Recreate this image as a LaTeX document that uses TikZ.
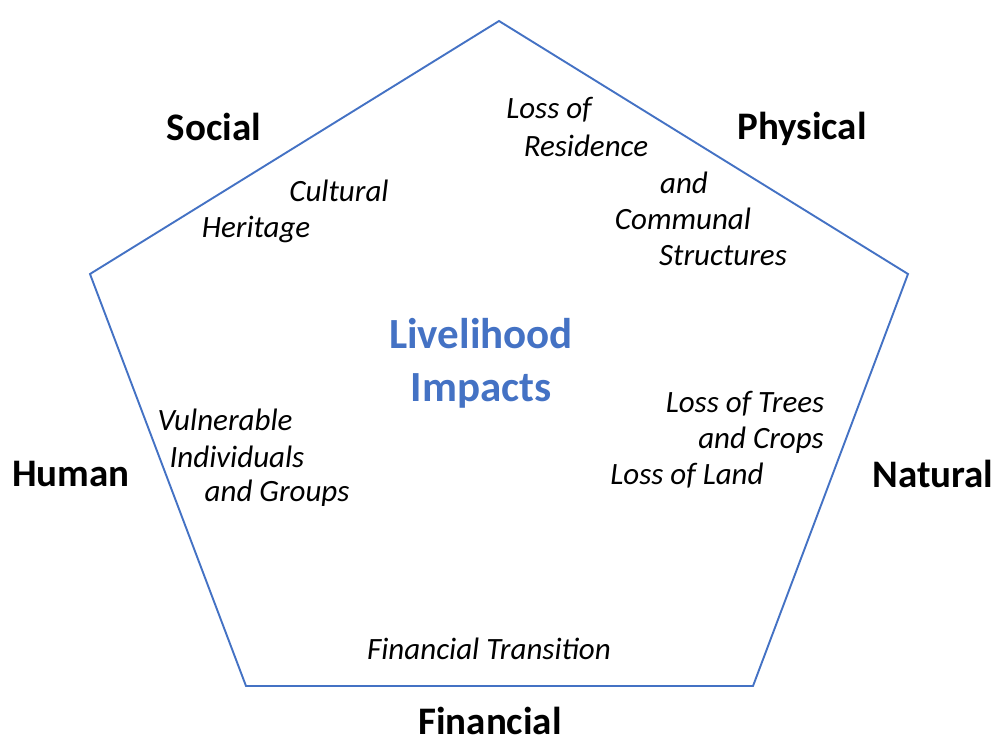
\documentclass[tikz,border=0pt]{standalone}
\usepackage{fontspec}
\setmainfont{Carlito}
\definecolor{pentblue}{RGB}{68,114,196}
\begin{document}
\begin{tikzpicture}[x=1pt,y=-1pt,
  capital/.style={font=\fontsize{39}{44}\selectfont\bfseries, inner sep=0pt},
  itl/.style={font=\fontsize{31}{36}\selectfont\itshape, inner sep=0pt},
  ttl/.style={font=\fontsize{43}{53}\selectfont\bfseries, text=pentblue, inner sep=0pt, align=center}]
\useasboundingbox (0,0) rectangle (995,738);
\coordinate (T) at (499,21);
\coordinate (R) at (908,274);
\coordinate (BR) at (753,686);
\coordinate (BL) at (246,686);
\coordinate (L) at (90,274);
\draw[pentblue, line width=1.9pt, line join=miter] (T) -- (R) -- (BR) -- (BL) -- (L) -- cycle;
\node[capital] (social) at (214,127) {Social};
\node[capital] (physical) at (802,129) {Physical};
\node[capital] (human) at (71,474) {Human};
\node[capital] (natural) at (933,474) {Natural};
\node[capital, anchor=base] (financial) at (490,734) {Financial};
\node[ttl] (title) at (481,363) {Livelihood\\Impacts};
\node[itl] (cult) at (339,191) {Cultural};
\node[itl] (herit) at (256,229) {Heritage};
\node[itl] (loss1) at (549,110) {Loss of};
\node[itl] (resid) at (586,146) {Residence};
\node[itl] (and1) at (684,183) {and};
\node[itl] (commun) at (683,219) {Communal};
\node[itl] (struct) at (723,256) {Structures};
\node[itl] (trees) at (745,404) {Loss of Trees};
\node[itl] (crops) at (761,440) {and Crops};
\node[itl] (land) at (687,476) {Loss of Land};
\node[itl] (vuln) at (225,420) {Vulnerable};
\node[itl] (indiv) at (237,457) {Individuals};
\node[itl] (groups) at (277,493) {and Groups};
\node[itl] (fintr) at (489,649) {Financial Transition};
\end{tikzpicture}
\end{document}
